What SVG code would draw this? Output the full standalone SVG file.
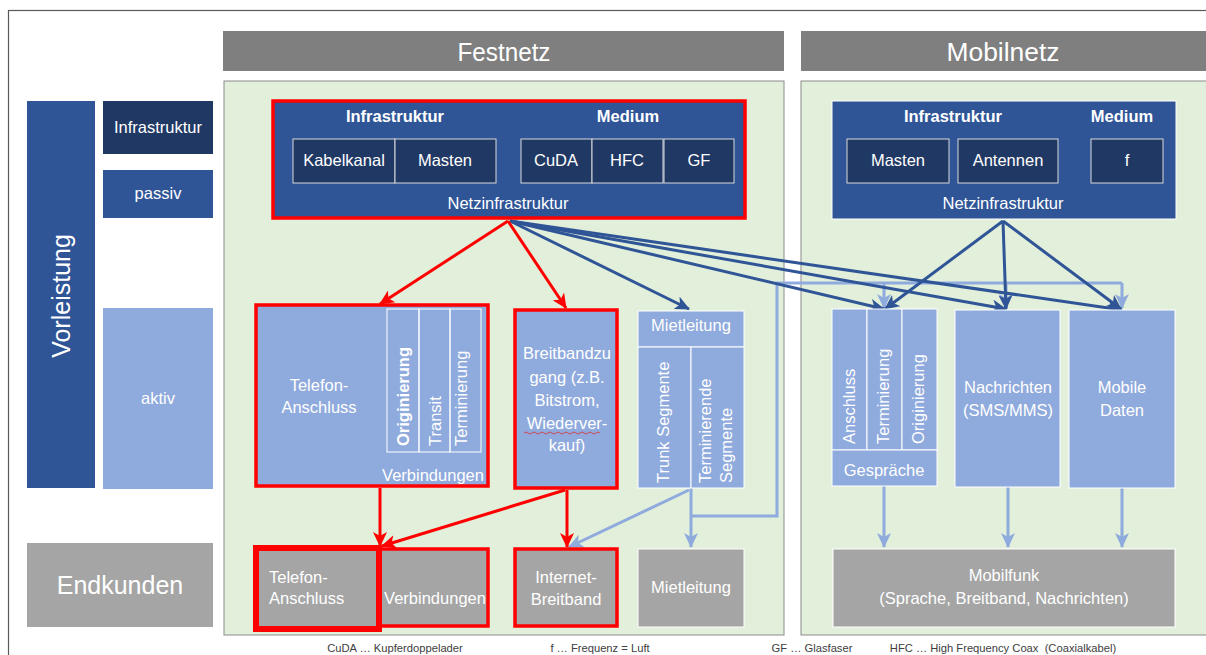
<svg xmlns="http://www.w3.org/2000/svg" width="1206" height="655" viewBox="0 0 1206 655">
<defs>
<marker id="ar" markerUnits="userSpaceOnUse" markerWidth="16" markerHeight="14" refX="14" refY="7" orient="auto"><path d="M0,0 L15,7 L0,14 L4,7 z" fill="#FF0000"/></marker>
<marker id="ab" markerUnits="userSpaceOnUse" markerWidth="16" markerHeight="14" refX="14" refY="7" orient="auto"><path d="M0,0 L15,7 L0,14 L4,7 z" fill="#2F5597"/></marker>
<marker id="al" markerUnits="userSpaceOnUse" markerWidth="16" markerHeight="14" refX="14" refY="7" orient="auto"><path d="M0,0 L15,7 L0,14 L4,7 z" fill="#8FAADC"/></marker>
</defs>
<style>
text{font-family:"Liberation Sans",Arial,sans-serif;fill:#FFFFFF;font-size:16.5px}
.c{text-anchor:middle}
.b{font-weight:bold}
.big{font-size:25px}
.hd{fill:#7F7F7F}
.pan{fill:#E2EFDA;stroke:#8C8C8C;stroke-width:1}
.dk{fill:#2F5597;stroke:#FFFFFF;stroke-width:1}
.nv{fill:#203864;stroke:#D9D9D9;stroke-width:1}
.lt{fill:#8FAADC;stroke:#FFFFFF;stroke-width:1}
.gy{fill:#A5A5A5;stroke:#FFFFFF;stroke-width:1}
.red{fill:none;stroke:#FF0000;stroke-width:3.5}
.cr{fill:none;stroke:#FF0000;stroke-width:3}
.cb{fill:none;stroke:#2F5597;stroke-width:3}
.cl{fill:none;stroke:#8FAADC;stroke-width:3}
.ft{fill:#404040;font-size:11.2px;white-space:pre}
</style>
<rect width="1206" height="655" fill="#FFFFFF"/>
<rect x="8.5" y="10.5" width="1210" height="700" fill="none" stroke="#595959" stroke-width="1.2"/>

<g id="festnetz-header"><rect x="223" y="31" width="561" height="40" class="hd"/><text x="504" y="61" class="c big" textLength="93" lengthAdjust="spacingAndGlyphs">Festnetz</text></g>
<g id="mobilnetz-header"><rect x="801" y="31" width="410" height="40" class="hd"/><text x="1003" y="61" class="c big" textLength="113" lengthAdjust="spacingAndGlyphs">Mobilnetz</text></g>
<g id="festnetz-panel"><rect x="224" y="81" width="560" height="554" class="pan"/></g>
<g id="mobilnetz-panel"><rect x="801" y="81" width="410" height="554" class="pan"/></g>

<g id="vorleistung"><rect x="27" y="101" width="68" height="387" fill="#2F5597"/><text transform="translate(70,296) rotate(-90)" class="c" style="font-size:25px">Vorleistung</text></g>
<g id="infrastruktur"><rect x="103" y="101" width="110" height="53" fill="#203864"/><text x="158" y="133" class="c">Infrastruktur</text></g>
<g id="passiv"><rect x="103" y="170" width="110" height="48" fill="#2F5597"/><text x="158" y="199" class="c">passiv</text></g>
<g id="aktiv"><rect x="103" y="308" width="110" height="181" fill="#8FAADC"/><text x="158" y="404" class="c">aktiv</text></g>
<g id="endkunden"><rect x="27" y="543" width="186" height="84" fill="#A5A5A5"/><text x="120" y="594" class="c" style="font-size:25px">Endkunden</text></g>

<g id="connectors">
<path class="cl" d="M691,516 L777,516 L777,283 L1122,283"/>
<path class="cl" marker-end="url(#al)" d="M884,283 L884,308"/>
<path class="cl" marker-end="url(#al)" d="M1006,283 L1006,308"/>
<path class="cl" marker-end="url(#al)" d="M1122,283 L1122,308"/>
<path class="cl" marker-end="url(#al)" d="M691,488 L691,547"/>
<path class="cl" marker-end="url(#al)" d="M689,490 L569,547"/>
<path class="cl" marker-end="url(#al)" d="M884,486 L884,547"/>
<path class="cl" marker-end="url(#al)" d="M1008,487 L1008,547"/>
<path class="cl" marker-end="url(#al)" d="M1122,488 L1122,547"/>
<path class="cb" marker-end="url(#ab)" d="M510,221 L689,309"/>
<path class="cb" marker-end="url(#ab)" d="M510,221 L884,309"/>
<path class="cb" marker-end="url(#ab)" d="M510,221 L1006,309"/>
<path class="cb" marker-end="url(#ab)" d="M510,221 L1122,310"/>
<path class="cb" marker-end="url(#ab)" d="M1003,221 L885,309"/>
<path class="cb" marker-end="url(#ab)" d="M1003,221 L1006,309"/>
<path class="cb" marker-end="url(#ab)" d="M1003,221 L1121,309"/>
<path class="cr" marker-end="url(#ar)" d="M508,221 L380,304"/>
<path class="cr" marker-end="url(#ar)" d="M508,221 L566,308"/>
<path class="cr" marker-end="url(#ar)" d="M380,488 L380,546"/>
<path class="cr" marker-end="url(#ar)" d="M565,490 L382,546"/>
<path class="cr" marker-end="url(#ar)" d="M567,490 L567,547"/>
</g>

<g id="festnetz-netzinfrastruktur">
<rect x="273" y="101" width="472" height="117" fill="#2F5597"/>
<rect x="273" y="101" width="472" height="117" class="red"/>
<text x="395" y="122" class="c b">Infrastruktur</text>
<text x="628" y="122" class="c b">Medium</text>
<rect x="293" y="139" width="102" height="44" class="nv"/><text x="344" y="166" class="c">Kabelkanal</text>
<rect x="395" y="139" width="101" height="44" class="nv"/><text x="445" y="166" class="c">Masten</text>
<rect x="521" y="139" width="71" height="44" class="nv"/><text x="556" y="166" class="c">CuDA</text>
<rect x="592" y="139" width="71" height="44" class="nv"/><text x="627" y="166" class="c">HFC</text>
<rect x="664" y="139" width="70" height="44" class="nv"/><text x="699" y="166" class="c">GF</text>
<text x="508" y="209" class="c">Netzinfrastruktur</text>
</g>

<g id="mobil-netzinfrastruktur">
<rect x="832" y="101" width="344" height="118" class="dk"/>
<text x="953" y="122" class="c b">Infrastruktur</text>
<text x="1122" y="122" class="c b">Medium</text>
<rect x="847" y="139" width="102" height="44" class="nv"/><text x="898" y="166" class="c">Masten</text>
<rect x="958" y="139" width="100" height="44" class="nv"/><text x="1008" y="166" class="c">Antennen</text>
<rect x="1091" y="139" width="72" height="44" class="nv"/><text x="1127" y="166" class="c">f</text>
<text x="1003" y="209" class="c">Netzinfrastruktur</text>
</g>

<g id="telefon-anschluss-vl">
<rect x="256" y="305" width="232" height="181" fill="#8FAADC"/>
<rect x="256" y="305" width="232" height="181" class="red"/>
<rect x="387" y="309" width="32" height="143" fill="none" stroke="#FFFFFF" stroke-width="1"/>
<rect x="419" y="309" width="31" height="143" fill="none" stroke="#FFFFFF" stroke-width="1"/>
<rect x="450" y="309" width="31" height="143" fill="none" stroke="#FFFFFF" stroke-width="1"/>
<text transform="translate(409,446) rotate(-90)" class="b">Originierung</text>
<text transform="translate(441,446) rotate(-90)">Transit</text>
<text transform="translate(467,446) rotate(-90)">Terminierung</text>
<text x="319" y="391" class="c">Telefon-</text>
<text x="319" y="413" class="c">Anschluss</text>
<text x="433" y="481" class="c">Verbindungen</text>
</g>

<g id="breitbandzugang">
<rect x="515" y="310" width="102" height="178" fill="#8FAADC"/>
<rect x="515" y="310" width="102" height="178" class="red"/>
<text x="567" y="359" class="c">Breitbandzu</text>
<text x="567" y="383" class="c">gang (z.B.</text>
<text x="567" y="406" class="c">Bitstrom,</text>
<text x="567" y="429" class="c">Wiederver-</text>
<path d="M524,433 q2,-2 4,0 t4,0 t4,0 t4,0 t4,0 t4,0 t4,0 t4,0 t4,0 t4,0 t4,0 t4,0 t4,0 t4,0 t4,0 t4,0 t4,0 t4,0 t4,0" fill="none" stroke="#E03030" stroke-width="0.8"/>
<text x="567" y="451" class="c">kauf)</text>
</g>

<g id="mietleitung-vl">
<rect x="638" y="311" width="106" height="36" class="lt"/>
<rect x="638" y="347" width="53" height="141" class="lt"/>
<rect x="691" y="347" width="53" height="141" class="lt"/>
<text x="691" y="331" class="c">Mietleitung</text>
<text transform="translate(669,483) rotate(-90)">Trunk Segmente</text>
<text transform="translate(711,483) rotate(-90)">Terminierende</text>
<text transform="translate(732,483) rotate(-90)">Segmente</text>
</g>

<g id="gespraeche">
<rect x="832" y="309" width="35" height="141" class="lt"/>
<rect x="867" y="309" width="35" height="141" class="lt"/>
<rect x="902" y="309" width="35" height="141" class="lt"/>
<rect x="832" y="450" width="105" height="36" class="lt"/>
<text transform="translate(855,444) rotate(-90)">Anschluss</text>
<text transform="translate(889,444) rotate(-90)">Terminierung</text>
<text transform="translate(924,444) rotate(-90)">Originierung</text>
<text x="884" y="476" class="c">Gespräche</text>
</g>

<g id="nachrichten"><rect x="955" y="310" width="105" height="177" class="lt"/><text x="1008" y="393" class="c">Nachrichten</text><text x="1008" y="416" class="c">(SMS/MMS)</text></g>
<g id="mobile-daten"><rect x="1069" y="310" width="106" height="178" class="lt"/><text x="1122" y="393" class="c">Mobile</text><text x="1122" y="416" class="c">Daten</text></g>

<g id="verbindungen-ek">
<rect x="378" y="549" width="110" height="77" fill="#A5A5A5"/>
<rect x="378" y="549" width="110" height="77" class="red"/>
<text x="435" y="604" class="c">Verbindungen</text>
</g>
<g id="telefon-anschluss-ek">
<rect x="256" y="548" width="123" height="81" fill="#A5A5A5"/>
<rect x="256" y="548" width="123" height="81" fill="none" stroke="#FF0000" stroke-width="6"/>
<text x="269" y="583">Telefon-</text>
<text x="269" y="604">Anschluss</text>
</g>
<g id="internet-breitband">
<rect x="515" y="549" width="102" height="77" fill="#A5A5A5"/>
<rect x="515" y="549" width="102" height="77" class="red"/>
<text x="566" y="583" class="c">Internet-</text>
<text x="566" y="605" class="c">Breitband</text>
</g>
<g id="mietleitung-ek"><rect x="638" y="549" width="106" height="78" class="gy"/><text x="691" y="593" class="c">Mietleitung</text></g>
<g id="mobilfunk"><rect x="833" y="549" width="342" height="78" class="gy"/><text x="1004" y="581" class="c">Mobilfunk</text><text x="1004" y="604" class="c">(Sprache, Breitband, Nachrichten)</text></g>

<g id="legend">
<text x="395" y="652" class="c ft">CuDA … Kupferdoppelader</text>
<text x="600" y="652" class="c ft">f … Frequenz = Luft</text>
<text x="812" y="652" class="c ft">GF … Glasfaser</text>
<text x="1003" y="652" class="c ft">HFC … High Frequency Coax  (Coaxialkabel)</text>
</g>
</svg>
